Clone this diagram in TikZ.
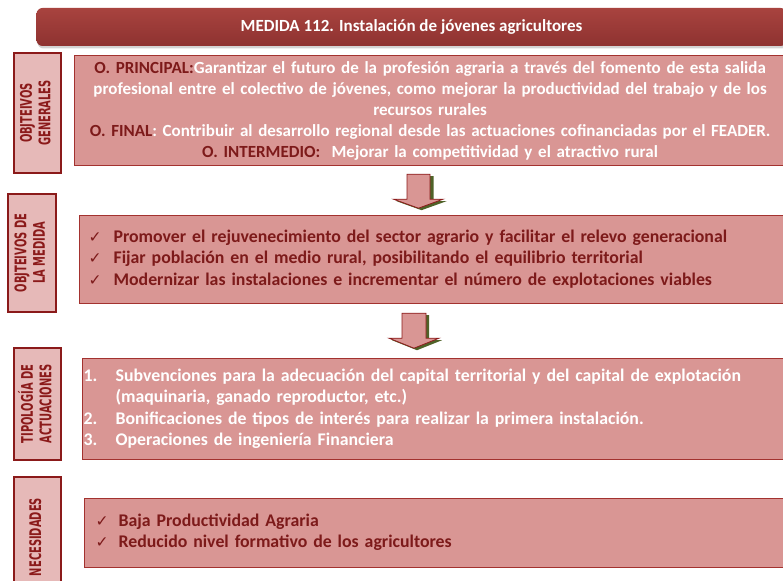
\documentclass[tikz,border=0pt]{standalone}
\usepackage{fontspec}
\setmainfont{Carlito}
\newfontfamily\labelfont{DejaVu Sans}
\newfontfamily\checkfont{DejaVu Sans}
\usetikzlibrary{shadows}

\definecolor{headtop}{HTML}{A8433F}
\definecolor{headbot}{HTML}{8E3230}
\definecolor{boxfill}{HTML}{D99694}
\definecolor{boxline}{HTML}{A3322F}
\definecolor{labfill}{HTML}{E6B9B8}
\definecolor{labline}{HTML}{8B1A1A}
\definecolor{darktext}{HTML}{7D1A1A}
\definecolor{arrowshadow}{HTML}{4F6228}

\newcommand{\chk}{{\checkfont\mdseries\fontsize{15.5}{15}\selectfont ✓}}
\newcommand{\lbl}[1]{\scalebox{0.62}[1]{\begin{tabular}{@{}c@{}}#1\end{tabular}}}

\begin{document}
\begin{tikzpicture}[x=1pt, y=-1pt,
	box/.style={draw=boxline, line width=1.2pt, fill=boxfill, anchor=north west, inner ysep=0pt,
		font=\bfseries\fontsize{17.8}{21.8}\selectfont},
	sidelabel/.style={draw=labline, line width=2.6pt, fill=labfill, rotate=90, inner sep=0pt,
		text=labline, font=\labelfont\bfseries\fontsize{16}{18.5}\selectfont},
	flecha/.style={draw=labline, line width=0.8pt, fill=boxfill, line join=miter},
	flechasombra/.style={fill=arrowshadow}]

	\useasboundingbox (0,0) rectangle (783,580);
	\clip (0,0) rectangle (783,580);

	% title bar
	\node[draw=none, rounded corners=6pt, top color=headtop, bottom color=headbot,
		drop shadow={opacity=0.35, shadow xshift=1pt, shadow yshift=-2.5pt},
		minimum width=750pt, minimum height=38pt, text=white,
		font=\bfseries\fontsize{17}{20}\selectfont] (titulo) at (411.5,27) {MEDIDA 112. Instalación de jóvenes agricultores};

	% side labels
	\node[sidelabel, minimum width=120pt, minimum height=47pt] (lab1) at (37.5,113) {\lbl{OBJTEIVOS\\GENERALES}};
	\node[sidelabel, minimum width=118pt, minimum height=48pt] (lab2) at (32,253) {\lbl{OBJTEIVOS DE\\LA MEDIDA}};
	\node[sidelabel, minimum width=112pt, minimum height=47pt] (lab3) at (37.5,404) {\lbl{TIPOLOGÍA DE\\ACTUACIONES}};
	\node[sidelabel, minimum width=120pt, minimum height=47pt] (lab4) at (37.5,537) {\lbl{NECESIDADES}};

	% boxes
	\node[box, inner xsep=0pt, minimum height=110pt, text width=711pt, align=center, text=white,
		font=\bfseries\fontsize{17}{21}\selectfont] (objgen) at (74,55)
		{\textcolor{darktext}{O. PRINCIPAL:}Garantizar el futuro de la profesión agraria a través del fomento de esta salida\\
		profesional entre el colectivo de jóvenes, como mejorar la productividad del trabajo y de los\\
		recursos rurales\\
		\textcolor{darktext}{O. FINAL}: Contribuir al desarrollo regional desde las actuaciones cofinanciadas por el FEADER.\\
		\textcolor{darktext}{O. INTERMEDIO:}\ \ Mejorar la competitividad y el atractivo rural};

	\node[box, inner xsep=9pt, minimum height=88pt, text width=700pt, align=left, text=darktext] (objmed) at (79,215)
		{\begin{tabular}{@{}l@{\hspace{12pt}}l@{}}
		\chk & Promover el rejuvenecimiento del sector agrario y facilitar el relevo generacional\\
		\chk & Fijar población en el medio rural, posibilitando el equilibrio territorial\\
		\chk & Modernizar las instalaciones e incrementar el número de explotaciones viables
		\end{tabular}};

	\node[box, inner xsep=1pt, minimum height=101pt, text width=700pt, align=left, text=white,
		font=\bfseries\fontsize{17.8}{21.5}\selectfont] (tipo) at (82,358)
		{\begin{tabular}{@{}p{32pt}@{}l@{}}
		1. & Subvenciones para la adecuación del capital territorial y del capital de explotación\\
		   & (maquinaria, ganado reproductor, etc.)\\
		2. & Bonificaciones de tipos de interés para realizar la primera instalación.\\
		3. & Operaciones de ingeniería Financiera
		\end{tabular}};

	\node[box, inner xsep=11pt, minimum height=69pt, text width=690pt, align=left, text=darktext,
		font=\bfseries\fontsize{17.8}{21}\selectfont] (neces) at (84,498)
		{\begin{tabular}{@{}l@{\hspace{10pt}}l@{}}
		\chk & Baja Productividad Agraria\\
		\chk & Reducido nivel formativo de los agricultores
		\end{tabular}};

	% block arrows
	\coordinate (f1) at (objgen.south -| 418.5,0);
	\coordinate (f2) at (objmed.south -| 414,0);
	\fill[flechasombra] ([shift={(3,10)}]f1) -- ++(12,0) -- ++(0,25) -- ++(13,0) -- ++(-25,9) -- ++(-25,-9) -- ++(13,0) -- cycle;
	\draw[flecha] ([shift={(-11.5,8)}]f1) -- ++(23,0) -- ++(0,25) -- ++(13,0) -- ++(-24.5,9) -- ++(-25,-9) -- ++(13.5,0) -- cycle;
	\fill[flechasombra] ([shift={(3,11)}]f2) -- ++(12,0) -- ++(0,25) -- ++(13,0) -- ++(-25,10) -- ++(-25,-10) -- ++(13,0) -- cycle;
	\draw[flecha] ([shift={(-12,9)}]f2) -- ++(24,0) -- ++(0,25) -- ++(13,0) -- ++(-25,10) -- ++(-25,-10) -- ++(13,0) -- cycle;
\end{tikzpicture}
\end{document}
